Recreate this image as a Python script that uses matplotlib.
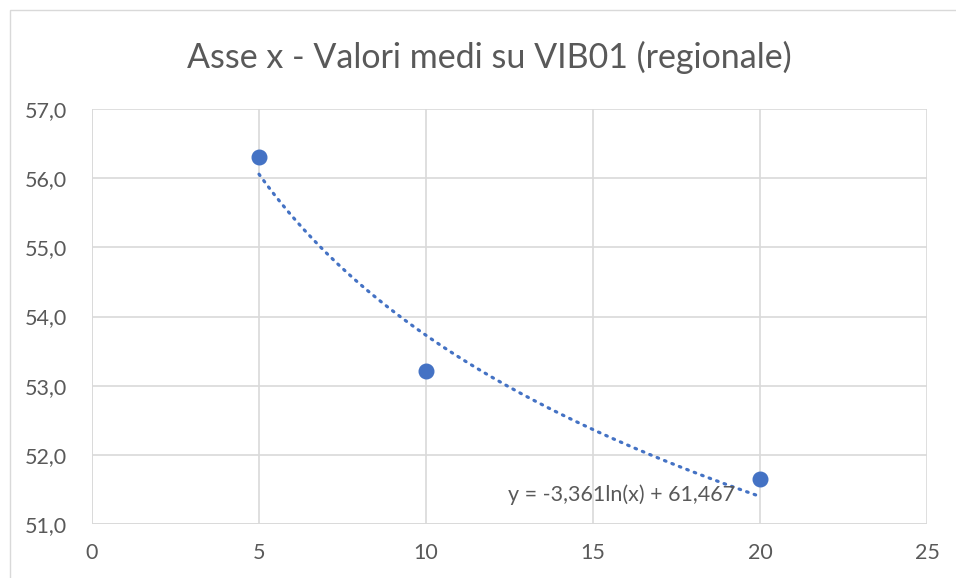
import numpy as np
import matplotlib.pyplot as plt
from matplotlib.ticker import FuncFormatter, MultipleLocator
from matplotlib.patches import Rectangle

# data
x_vals = [5, 10, 20]
y_vals = [56.31, 53.21, 51.65]
coef_a = -3.361
coef_b = 61.467
title = "Asse x - Valori medi su VIB01 (regionale)"
equation = "y = -3,361ln(x) + 61,467"

plt.rcParams['font.family'] = ['Lato', 'DejaVu Sans']

fig = plt.figure(figsize=(9.56, 5.78), dpi=100)
fig.patches.append(Rectangle((10 / 956, -0.1), 1.0, 1 - 10 / 578 + 0.1, transform=fig.transFigure,
                             fill=False, edgecolor='#d9d9d9', linewidth=1))
ax = fig.add_axes([92 / 956, 1 - 524 / 578, (927 - 92) / 956, (524 - 109) / 578])

text_col = '#595959'
grid_col = '#d9d9d9'
blue = '#4472C4'

# trendline
xt = np.linspace(min(x_vals), max(x_vals), 200)
ax.plot(xt, coef_a * np.log(xt) + coef_b, linestyle=(0, (0.5, 2.0)), color=blue,
        linewidth=2.3, dash_capstyle='round', zorder=2)
ax.plot(x_vals, y_vals, 'o', color=blue, markersize=10.5, zorder=3)

ax.set_xlim(0, 25)
ax.set_ylim(51, 57)
ax.xaxis.set_major_locator(MultipleLocator(5))
ax.yaxis.set_major_locator(MultipleLocator(1))
ax.yaxis.set_major_formatter(FuncFormatter(lambda v, p: f"{v:.1f}".replace('.', ',')))
ax.grid(True, color=grid_col, linewidth=1.2)
ax.set_axisbelow(True)
for s in ax.spines.values():
    s.set_visible(False)
ax.axhline(51, color=grid_col, linewidth=1.2, zorder=1)
ax.axvline(0, color=grid_col, linewidth=1.2, zorder=1)
ax.tick_params(length=0, labelsize=15.5, colors=text_col, pad=14)
ax.tick_params(axis='y', pad=18)

ax.text(12.45, 51.42, equation, fontsize=15.5, color=text_col, va='center', ha='left')
fig.text((186 + 793) / 2 / 956, 1 - 57 / 578, title, fontsize=24.5, color=text_col,
         ha='center', va='center')

fig.savefig('out.png', dpi=100)
